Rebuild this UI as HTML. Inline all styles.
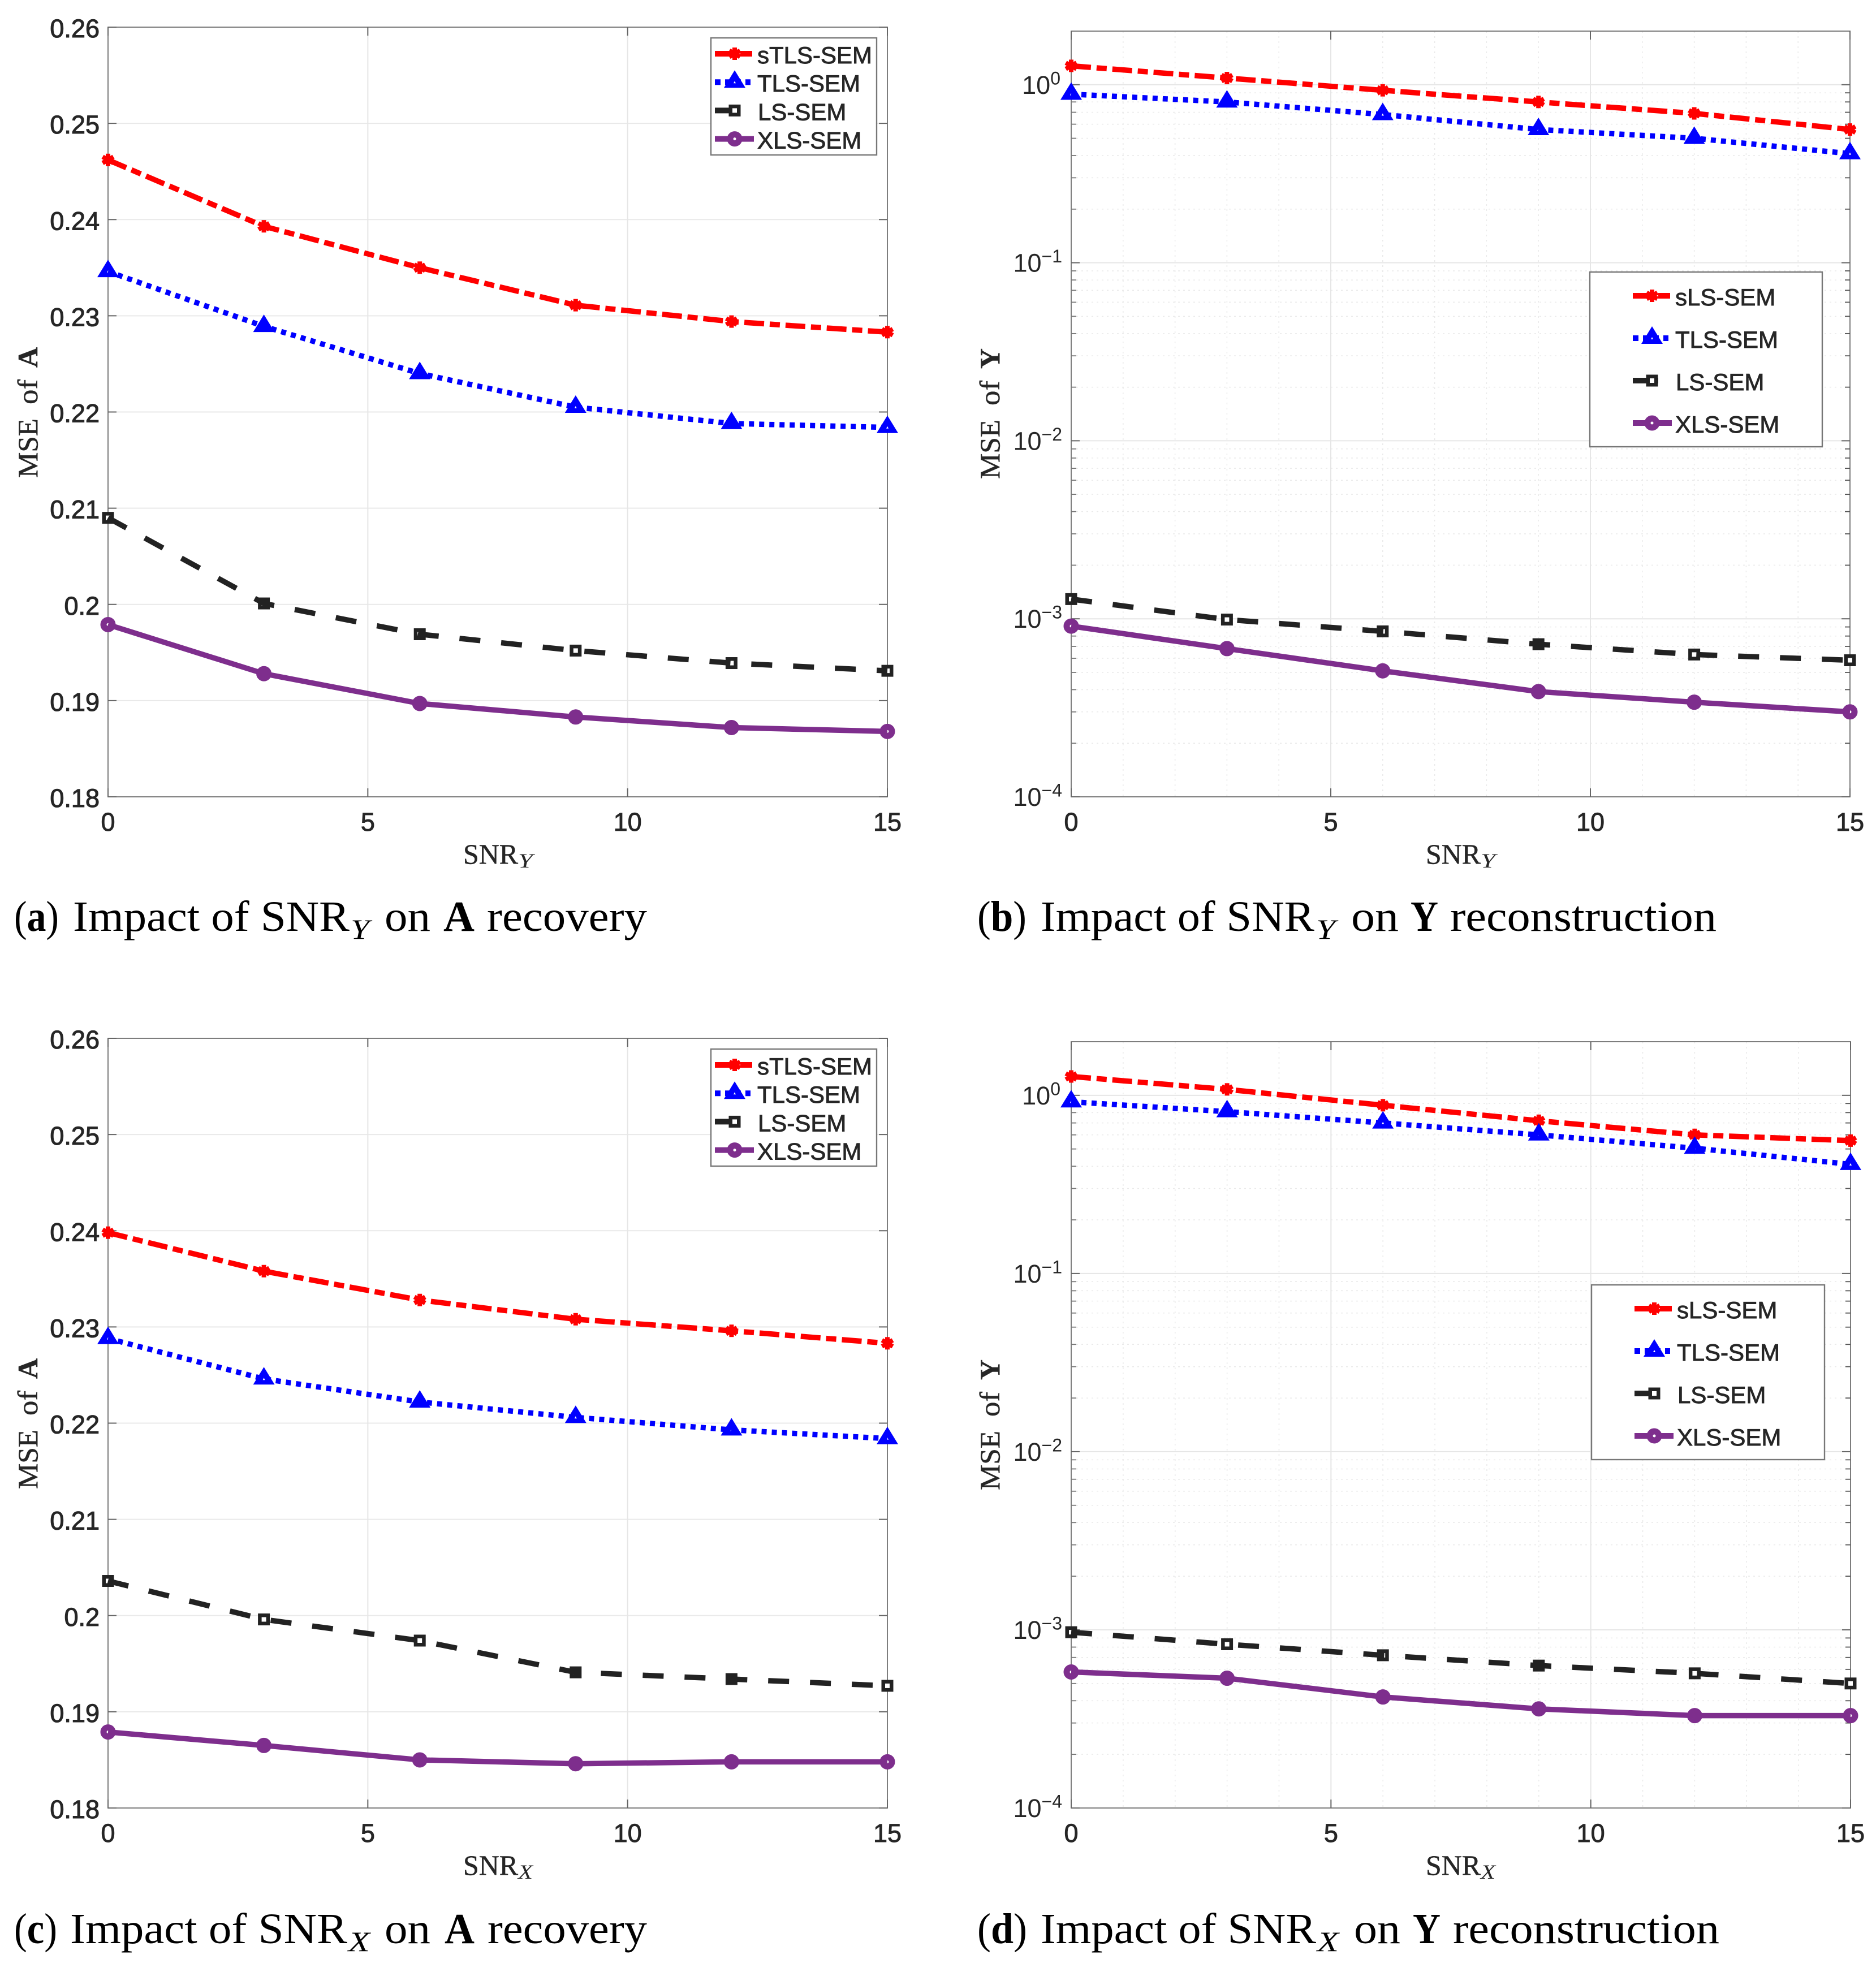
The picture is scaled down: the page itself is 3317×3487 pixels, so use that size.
<!DOCTYPE html>
<html lang="en">
<head>
<meta charset="utf-8">
<title>Impact of SNR on recovery and reconstruction</title>
<style>
html,body{margin:0;padding:0;background:#fff;}
svg{display:block;}
.cap{font-family:"Liberation Serif",serif;font-size:76px;fill:#000;}
.capb{font-weight:bold;}
.sub{font-size:50px;font-style:italic;}
</style>
</head>
<body>
<svg id="figure" xmlns="http://www.w3.org/2000/svg" width="3317" height="3487" viewBox="0 0 3317 3487">
<rect x="0" y="0" width="3317" height="3487" fill="#fff"/>
<g class="cap">
<text x="25" y="1646" textLength="79" lengthAdjust="spacingAndGlyphs">(<tspan class="capb">a</tspan>)</text>
<text x="129" y="1646" textLength="489" lengthAdjust="spacingAndGlyphs">Impact of SNR</text>
<text x="620" y="1660" class="sub" textLength="33" lengthAdjust="spacingAndGlyphs">Y</text>
<text x="680" y="1646" textLength="81" lengthAdjust="spacingAndGlyphs">on</text>
<text x="784" y="1646" class="capb" textLength="55" lengthAdjust="spacingAndGlyphs">A</text>
<text x="861" y="1646" textLength="283" lengthAdjust="spacingAndGlyphs">recovery</text>
</g>
<g class="cap">
<text x="1728" y="1646" textLength="87" lengthAdjust="spacingAndGlyphs">(<tspan class="capb">b</tspan>)</text>
<text x="1840" y="1646" textLength="484" lengthAdjust="spacingAndGlyphs">Impact of SNR</text>
<text x="2327" y="1660" class="sub" textLength="34" lengthAdjust="spacingAndGlyphs">Y</text>
<text x="2389" y="1646" textLength="84" lengthAdjust="spacingAndGlyphs">on</text>
<text x="2494" y="1646" class="capb" textLength="49" lengthAdjust="spacingAndGlyphs">Y</text>
<text x="2564" y="1646" textLength="471" lengthAdjust="spacingAndGlyphs">reconstruction</text>
</g>
<g class="cap">
<text x="25" y="3436" textLength="76" lengthAdjust="spacingAndGlyphs">(<tspan class="capb">c</tspan>)</text>
<text x="124" y="3436" textLength="490" lengthAdjust="spacingAndGlyphs">Impact of SNR</text>
<text x="616" y="3450" class="sub" textLength="38" lengthAdjust="spacingAndGlyphs">X</text>
<text x="680" y="3436" textLength="81" lengthAdjust="spacingAndGlyphs">on</text>
<text x="786" y="3436" class="capb" textLength="53" lengthAdjust="spacingAndGlyphs">A</text>
<text x="862" y="3436" textLength="282" lengthAdjust="spacingAndGlyphs">recovery</text>
</g>
<g class="cap">
<text x="1728" y="3436" textLength="88" lengthAdjust="spacingAndGlyphs">(<tspan class="capb">d</tspan>)</text>
<text x="1840" y="3436" textLength="487" lengthAdjust="spacingAndGlyphs">Impact of SNR</text>
<text x="2329" y="3450" class="sub" textLength="38" lengthAdjust="spacingAndGlyphs">X</text>
<text x="2394" y="3436" textLength="82" lengthAdjust="spacingAndGlyphs">on</text>
<text x="2498" y="3436" class="capb" textLength="49" lengthAdjust="spacingAndGlyphs">Y</text>
<text x="2569" y="3436" textLength="471" lengthAdjust="spacingAndGlyphs">reconstruction</text>
</g>
</svg>
<script>
// ---- chart data ----
const snrValues = [0, 3, 6, 9, 12, 15];
const xTickValues = [0, 5, 10, 15];
const linearTickValues = [0.18, 0.19, 0.2, 0.21, 0.22, 0.23, 0.24, 0.25, 0.26];
const linearTickLabels = ['0.18', '0.19', '0.2', '0.21', '0.22', '0.23', '0.24', '0.25', '0.26'];
const logDecadeExponents = [0, -1, -2, -3, -4];

const panelA_sTLS = [0.2462, 0.2393, 0.2350, 0.2311, 0.2294, 0.2283];
const panelA_TLS = [0.2346, 0.2289, 0.2240, 0.2205, 0.2188, 0.2184];
const panelA_LS = [0.2090, 0.2001, 0.1969, 0.1952, 0.1939, 0.1931];
const panelA_XLS = [0.1979, 0.1928, 0.1897, 0.1883, 0.1872, 0.1868];

const panelB_sLS = [1.276, 1.09, 0.93, 0.80, 0.69, 0.56];
const panelB_TLS = [0.885, 0.80, 0.68, 0.56, 0.50, 0.41];
const panelB_LS = [0.00129, 0.00099, 0.00085, 0.00072, 0.00063, 0.000585];
const panelB_XLS = [0.00091, 0.00068, 0.00051, 0.00039, 0.00034, 0.00030];

const panelC_sTLS = [0.2398, 0.2358, 0.2328, 0.2308, 0.2296, 0.2283];
const panelC_TLS = [0.2288, 0.2246, 0.2222, 0.2206, 0.2193, 0.2184];
const panelC_LS = [0.2036, 0.1996, 0.1974, 0.1941, 0.1934, 0.1927];
const panelC_XLS = [0.1879, 0.1865, 0.1850, 0.1846, 0.1848, 0.1848];

const panelD_sLS = [1.276, 1.08, 0.88, 0.72, 0.60, 0.557];
const panelD_TLS = [0.92, 0.81, 0.70, 0.60, 0.505, 0.41];
const panelD_LS = [0.00097, 0.00083, 0.00072, 0.00063, 0.00057, 0.00050];
const panelD_XLS = [0.00058, 0.000535, 0.00042, 0.00036, 0.00033, 0.00033];

const legendNamesLinear = ['sTLS-SEM', 'TLS-SEM', 'LS-SEM', 'XLS-SEM'];
const legendNamesLog = ['sLS-SEM', 'TLS-SEM', 'LS-SEM', 'XLS-SEM'];

// ---- styles & layout ----
const seriesStyles = [
  {key: 'stls', color: '#ff0000', dash: '35 10 18 10', marker: 'star', handleDash: '35 10 30', handleLen: 66},
  {key: 'tls', color: '#0000ff', dash: '9 9', marker: 'triangle', handleDash: '10 8', handleLen: 63},
  {key: 'ls', color: '#222222', dash: '37 37', marker: 'square', handleDash: '', handleLen: 45},
  {key: 'xls', color: '#7e2e8d', dash: '', marker: 'circle', handleDash: '', handleLen: 69}
];
const panels = [
  {id: 'a', left: 191, right: 1569, top: 48, bottom: 1409, log: false, series: [panelA_sTLS, panelA_TLS, panelA_LS, panelA_XLS], names: legendNamesLinear, sub: 'Y', bold: 'A', yLabelBottom: 845, yBase: 66, xLabelX: 819,
    legend: {x: 1257, y: 67, w: 293, h: 207, hx: 7, mx: 42, tx: 82, lineStart: 28, step: 50.2, baseStart: 45}},
  {id: 'b', left: 1894, right: 3271, top: 55, bottom: 1409, log: true, series: [panelB_sLS, panelB_TLS, panelB_LS, panelB_XLS], names: legendNamesLog, sub: 'Y', bold: 'Y', yLabelBottom: 847, yBase: 1767, xLabelX: 2521,
    legend: {x: 2811, y: 481, w: 411, h: 309, hx: 76, mx: 110, tx: 151, lineStart: 42, step: 75, baseStart: 59}},
  {id: 'c', left: 191, right: 1569, top: 1836, bottom: 3197, log: false, series: [panelC_sTLS, panelC_TLS, panelC_LS, panelC_XLS], names: legendNamesLinear, sub: 'X', bold: 'A', yLabelBottom: 2633, yBase: 66, xLabelX: 819,
    legend: {x: 1257, y: 1855, w: 293, h: 207, hx: 7, mx: 42, tx: 82, lineStart: 28, step: 50.2, baseStart: 45}},
  {id: 'd', left: 1894, right: 3272, top: 1842, bottom: 3197, log: true, series: [panelD_sLS, panelD_TLS, panelD_LS, panelD_XLS], names: legendNamesLog, sub: 'X', bold: 'Y', yLabelBottom: 2635, yBase: 1767, xLabelX: 2521,
    legend: {x: 2814, y: 2272, w: 412, h: 309, hx: 76, mx: 111, tx: 151, lineStart: 42, step: 75, baseStart: 59}}
];
const SVGNS = 'http://www.w3.org/2000/svg';
const SANS = '"Liberation Sans", sans-serif';
const SERIF = '"Liberation Serif", serif';
const INK = '#262626';
const figure = document.getElementById('figure');

function make(tag, attrs, parent) {
  const node = document.createElementNS(SVGNS, tag);
  for (const k in attrs) node.setAttribute(k, attrs[k]);
  parent.appendChild(node);
  return node;
}
function xAxis(p, v) { return p.left + (v / 15) * (p.right - p.left); }
function yAxis(p, v) {
  const h = p.bottom - p.top;
  if (p.log) {
    const lo = -4, hi = Math.log10(2);
    return p.bottom - (Math.log10(v) - lo) / (hi - lo) * h;
  }
  return p.bottom - (v - 0.18) / 0.08 * h;
}
function hline(parent, x1, x2, y, stroke, width, dash) {
  const attrs = {x1: x1, x2: x2, y1: y, y2: y, stroke: stroke, 'stroke-width': width};
  if (dash) attrs['stroke-dasharray'] = dash;
  return make('line', attrs, parent);
}
function vline(parent, x, y1, y2, stroke, width, dash) {
  const attrs = {x1: x, x2: x, y1: y1, y2: y2, stroke: stroke, 'stroke-width': width};
  if (dash) attrs['stroke-dasharray'] = dash;
  return make('line', attrs, parent);
}
function drawMarker(parent, kind, cx, cy, color) {
  const g = make('g', {}, parent);
  if (kind === 'star') {
    [0, 60, 120].forEach(function (deg) {
      const r = deg * Math.PI / 180, dx = Math.sin(r) * 11, dy = Math.cos(r) * 11;
      make('line', {x1: cx - dx, y1: cy - dy, x2: cx + dx, y2: cy + dy, stroke: color, 'stroke-width': 8}, g);
    });
  } else if (kind === 'triangle') {
    make('polygon', {points: (cx) + ',' + (cy - 21) + ' ' + (cx + 19) + ',' + (cy + 10) + ' ' + (cx - 19) + ',' + (cy + 10), fill: color}, g);
    make('polygon', {points: (cx) + ',' + (cy - 2) + ' ' + (cx + 2) + ',' + (cy + 2) + ' ' + (cx - 2) + ',' + (cy + 2), fill: '#fff'}, g);
  } else if (kind === 'square') {
    make('rect', {x: cx - 7.25, y: cy - 7.25, width: 14.5, height: 14.5, fill: '#fff', stroke: color, 'stroke-width': 6.5}, g);
  } else {
    make('circle', {cx: cx, cy: cy, r: 8, fill: '#fff', stroke: color, 'stroke-width': 11}, g);
  }
  return g;
}

panels.forEach(function (p) {
  const root = make('g', {}, figure);
  
  

  // grid
  const grid = make('g', {}, root);
  
  
  if (p.log) {
    for (let i = 1; i < 15; i++) {
      if (i % 5) vline(grid, xAxis(p, i), p.top, p.bottom, '#e9e9e9', 1.5, '3 6');
    }
    logDecadeExponents.forEach(function (e) {
      if (e === -4) return;
      for (let m = 2; m <= 9; m++) {
        hline(grid, p.left, p.right, yAxis(p, m * Math.pow(10, e - 1)), '#e9e9e9', 1.5, '3 6');
      }
    });
    logDecadeExponents.forEach(function (e) {
      hline(grid, p.left, p.right, yAxis(p, Math.pow(10, e)), '#e6e6e6', 2);
    });
  } else {
    linearTickValues.forEach(function (v) { hline(grid, p.left, p.right, yAxis(p, v), '#e9e9e9', 2); });
  }
  xTickValues.forEach(function (v) { vline(grid, xAxis(p, v), p.top, p.bottom, '#e6e6e6', 2); });

  // axes box and ticks
  const axes = make('g', {}, root);
  
  
  make('rect', {x: p.left, y: p.top, width: p.right - p.left, height: p.bottom - p.top, fill: 'none', stroke: '#7d7d7d', 'stroke-width': 2}, axes);
  xTickValues.forEach(function (v) {
    const x = xAxis(p, v);
    vline(axes, x, p.top, p.top + 15, '#666', 2);
    vline(axes, x, p.bottom - 15, p.bottom, '#666', 2);
    const t = make('text', {x: x, y: p.bottom + 60, 'text-anchor': 'middle', 'font-family': SANS, 'font-size': 45, fill: INK, stroke: INK, 'stroke-width': 0.9}, axes);
    t.textContent = String(v);
    
    
  });
  if (p.log) {
    logDecadeExponents.forEach(function (e) {
      const y = yAxis(p, Math.pow(10, e));
      hline(axes, p.left, p.left + 15, y, '#666', 2);
      hline(axes, p.right - 15, p.right, y, '#666', 2);
      const anchorX = p.left - (e === 0 ? 19 : 16);
      const t = make('text', {x: anchorX, y: y + 16, 'text-anchor': 'end', 'font-family': SANS, 'font-size': 45, fill: INK}, axes);
      
      
      const base = make('tspan', {}, t);
      base.textContent = '10';
      const sup = make('tspan', {dy: -16.5, 'font-size': 32}, t);
      sup.textContent = e === 0 ? '0' : '\u2212' + Math.abs(e);
      if (e !== -4) {
        for (let m = 2; m <= 9; m++) {
          const ym = yAxis(p, m * Math.pow(10, e - 1));
          hline(axes, p.left, p.left + 9, ym, '#777', 1.8);
          hline(axes, p.right - 9, p.right, ym, '#555', 1.8);
        }
      }
    });
  } else {
    linearTickValues.forEach(function (v, i) {
      const y = yAxis(p, v);
      hline(axes, p.left, p.left + 15, y, '#666', 2);
      hline(axes, p.right - 15, p.right, y, '#666', 2);
      const t = make('text', {x: 176, y: y + 18, 'text-anchor': 'end', 'font-family': SANS, 'font-size': 45, fill: INK, stroke: INK, 'stroke-width': 1.1}, axes);
      t.textContent = linearTickLabels[i];
      
      
    });
  }

  // x-axis title
  const xTitle = make('g', {}, root);
  
  
  const baseY = p.bottom + 118;
  const xt = make('text', {x: p.xLabelX, y: baseY, 'font-family': SERIF, 'font-size': 50, fill: INK, stroke: INK, 'stroke-width': 0.5, textLength: 97, lengthAdjust: 'spacingAndGlyphs'}, xTitle);
  xt.textContent = 'SNR';
  const xs = make('text', {x: p.xLabelX + 97, y: baseY + 7, 'font-family': SERIF, 'font-size': 36, 'font-style': 'italic', fill: INK, textLength: 26, lengthAdjust: 'spacingAndGlyphs'}, xTitle);
  xs.textContent = p.sub;

  // y-axis title
  const yTitle = make('g', {}, root);
  
  
  const segs = [
    {txt: 'MSE', off: 0, len: 105, bold: false},
    {txt: 'of', off: 130, len: 44, bold: false},
    {txt: p.bold, off: 195, len: 36, bold: true}
  ];
  segs.forEach(function (s) {
    const ty = p.yLabelBottom - s.off;
    const attrs = {x: p.yBase, y: ty, transform: 'rotate(-90 ' + p.yBase + ' ' + ty + ')', 'font-family': SERIF, 'font-size': 50, fill: INK, stroke: INK, 'stroke-width': 0.5, textLength: s.len, lengthAdjust: 'spacingAndGlyphs'};
    if (s.bold) attrs['font-weight'] = 'bold';
    const t = make('text', attrs, yTitle);
    t.textContent = s.txt;
  });

  // series
  p.series.forEach(function (values, si) {
    const st = seriesStyles[si];
    const g = make('g', {}, root);
    
    
    const pts = values.map(function (v, i) { return [xAxis(p, snrValues[i]), yAxis(p, v)]; });
    pts.forEach(function (pt) {
      const m = drawMarker(g, st.marker, pt[0], pt[1], st.color);
      
      
    });
    const lineAttrs = {points: pts.map(function (pt) { return pt.join(','); }).join(' '), fill: 'none', stroke: st.color, 'stroke-width': 9.5, 'stroke-linejoin': 'round'};
    if (st.dash) lineAttrs['stroke-dasharray'] = st.dash;
    const line = make('polyline', lineAttrs, g);
    
    
  });

  // legend
  const L = p.legend;
  const lg = make('g', {}, root);
  
  
  make('rect', {x: L.x, y: L.y, width: L.w, height: L.h, fill: '#fff', stroke: '#777', 'stroke-width': 2.4}, lg);
  p.names.forEach(function (name, i) {
    const st = seriesStyles[i];
    const entry = make('g', {}, lg);
    
    
    const ly = L.y + L.lineStart + i * L.step;
    const hAttrs = {x1: L.x + L.hx, x2: L.x + L.hx + st.handleLen, y1: ly, y2: ly, stroke: st.color, 'stroke-width': 10};
    if (st.handleDash) hAttrs['stroke-dasharray'] = st.handleDash;
    make('line', hAttrs, entry);
    drawMarker(entry, st.marker, L.x + L.mx, ly, st.color);
    const isLS = name === 'LS-SEM';
    const t = make('text', {x: L.x + L.tx + (isLS ? 1 : 0), y: L.y + L.baseStart + i * L.step, 'font-family': SANS, 'font-size': 42, fill: INK, stroke: INK, 'stroke-width': 0.9}, entry);
    t.textContent = name;
  });
});
</script>
</body>
</html>
